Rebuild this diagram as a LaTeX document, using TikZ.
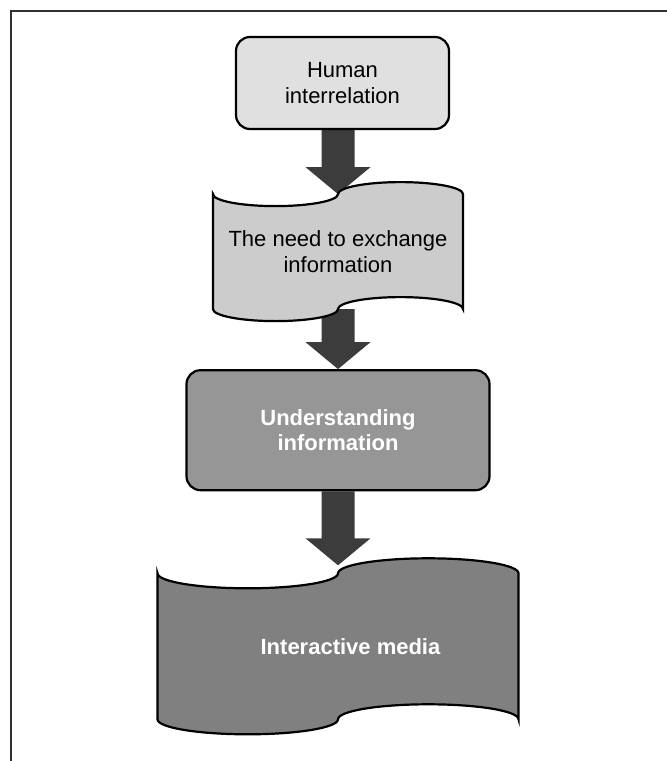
\documentclass[tikz,border=0pt]{standalone}
\usepackage{fontspec}
\setmainfont{Liberation Sans}
\usetikzlibrary{positioning}
\usetikzlibrary{calc}

\definecolor{boxone}{HTML}{E0E0E0}
\definecolor{tapetwo}{HTML}{CCCCCC}
\definecolor{boxthree}{HTML}{969696}
\definecolor{tapefour}{HTML}{808080}
\definecolor{arrowgray}{HTML}{3C3C3C}
\definecolor{framegray}{HTML}{303030}

\pgfdeclarelayer{arrowlayer}
\pgfdeclarelayer{tapelayer}
\pgfsetlayers{arrowlayer,tapelayer,main}

% punched tape outline around a node: name, width, dip, fill
\newcommand{\tapeshape}[4]{%
  \begin{pgfonlayer}{tapelayer}
  \draw[line width=2.2pt, fill=#4] (#1.north west)
    arc[start angle=180, end angle=0, x radius=#2/4, y radius=#3]
    arc[start angle=180, end angle=360, x radius=#2/4, y radius=#3]
    -- (#1.south east)
    arc[start angle=0, end angle=-180, x radius=#2/4, y radius=#3]
    arc[start angle=0, end angle=180, x radius=#2/4, y radius=#3]
    -- cycle;
  \end{pgfonlayer}}

% thick block arrow: start, tip
\newcommand{\blockarrow}[2]{%
  \begin{pgfonlayer}{arrowlayer}
  \fill[arrowgray] let \p1=(#1), \p2=(#2) in
    (\x2-16.5pt,\y1) -- (\x2+16.5pt,\y1) -- (\x2+16.5pt,\y2+27pt)
    -- (\x2+32.5pt,\y2+27pt) -- (\x2,\y2) -- (\x2-32.5pt,\y2+27pt)
    -- (\x2-16.5pt,\y2+27pt) -- cycle;
  \end{pgfonlayer}}

\begin{document}
\begin{tikzpicture}
  [x=1pt, y=-1pt,
   box/.style={rectangle, rounded corners=14pt, draw=black, line width=2.2pt,
     align=center, font=\fontsize{22}{25.5}\selectfont},
   tape/.style={rectangle, outer sep=0pt, align=center,
     font=\fontsize{22}{25.5}\selectfont},
   lighttext/.style={text=white, font=\bfseries\fontsize{22}{25.5}\selectfont}]
  \useasboundingbox (0,0) rectangle (667,761);
  \draw[line width=2pt, draw=framegray] (667,11) -- (11,11) -- (11,761);

  \node[box, fill=boxone, minimum width=213pt, minimum height=92pt]
    (human) at (342.5,83) {Human\\interrelation};
  \node[tape, minimum width=250pt, minimum height=115pt,
    below=64pt of human, xshift=-4.5pt] (need) {The need to exchange\\information};
  \node[box, lighttext, fill=boxthree, minimum width=303pt, minimum height=120pt,
    below=60pt of need] (understanding) {Understanding\\information};
  \node[tape, lighttext, minimum width=361pt, minimum height=146pt,
    below=82pt of understanding] (media) {\hspace*{25pt}Interactive media};

  \tapeshape{need}{250}{12}{tapetwo}
  \tapeshape{media}{361}{15}{tapefour}

  \blockarrow{human.south -| need.north}{need.north}
  \blockarrow{need.south}{understanding.north}
  \blockarrow{understanding.south -| media.north}{$(media.north)+(0,-8)$}
\end{tikzpicture}
\end{document}
